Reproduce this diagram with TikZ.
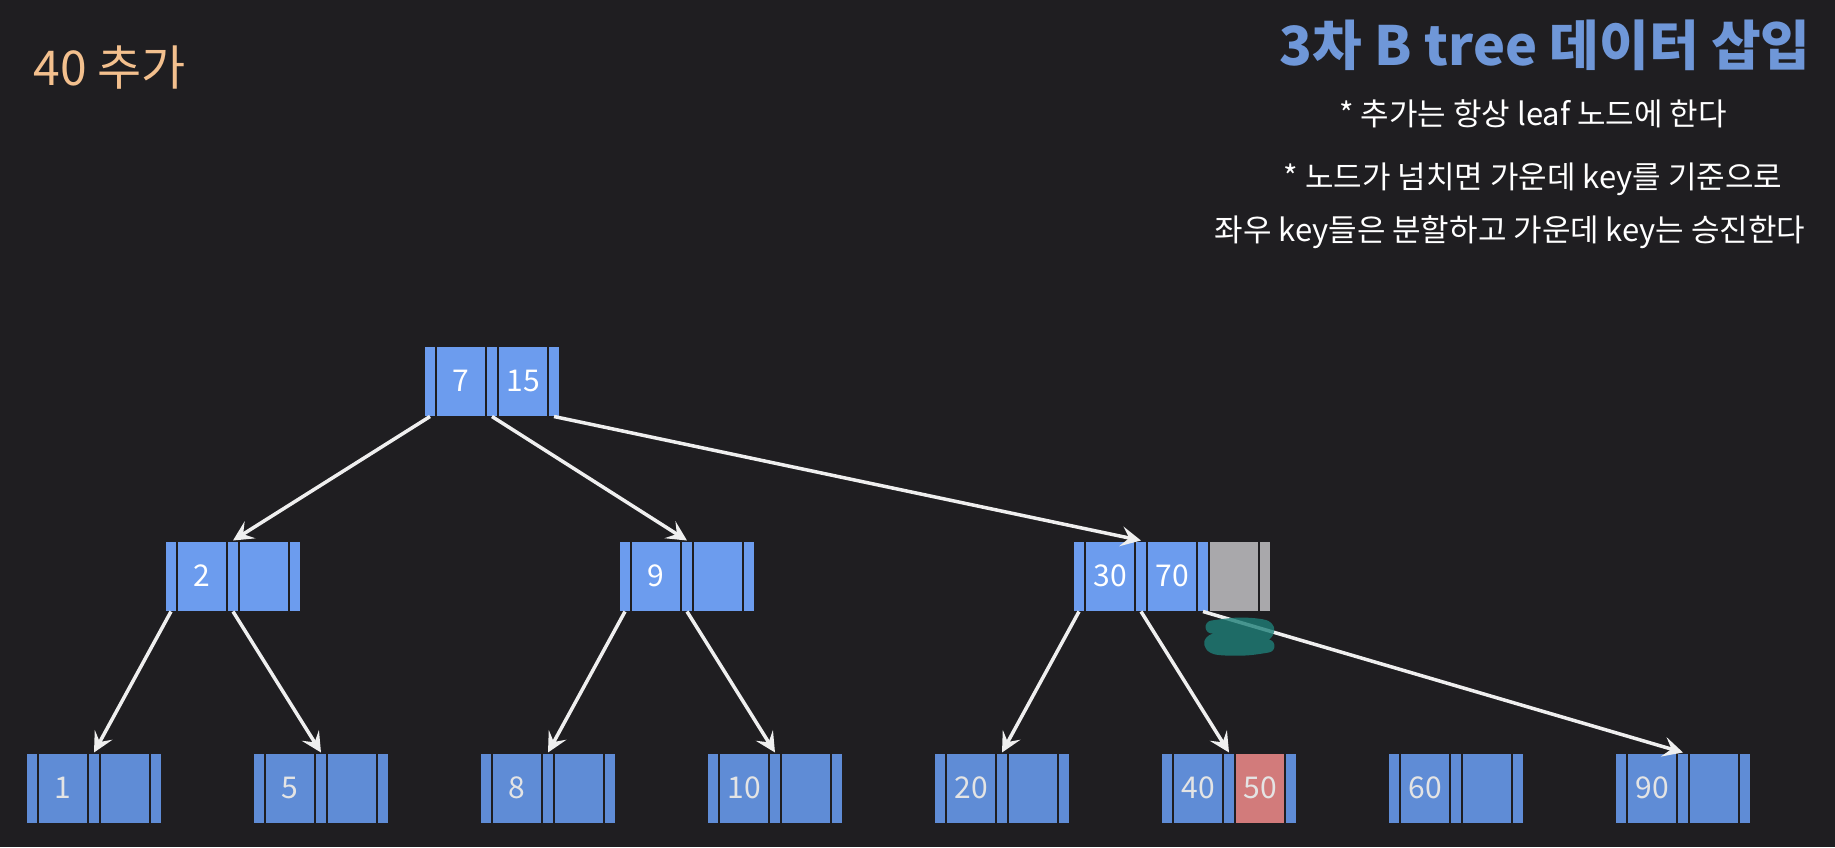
\documentclass[tikz,border=0pt]{standalone}
\usepackage{fontspec}
\setmainfont{Noto Sans CJK KR}
\usepackage{tikz}
\usetikzlibrary{arrows.meta, positioning}

\definecolor{bg}{HTML}{1F1E21}
\definecolor{upblue}{HTML}{6C9CEE}
\definecolor{leafblue}{HTML}{5F8CD6}
\definecolor{overgray}{HTML}{A9A8AB}
\definecolor{hotred}{HTML}{D27B7B}
\definecolor{leaftext}{HTML}{E4E4E4}
\definecolor{addcol}{HTML}{F3C08E}
\definecolor{titleblue}{HTML}{6F97D8}
\definecolor{arrowcol}{HTML}{EFEFEF}
\definecolor{marker}{HTML}{1E7F78}

% one b-tree node = pointer | key | pointer | key | pointer
\newcommand{\btnode}[6]{%
  \node[ptr, #3, anchor=west] (#1-p0) at (#2) {};
  \node[key, #3, right=0pt of #1-p0] (#1-k1) {#4};
  \node[ptr, #3, right=0pt of #1-k1] (#1-p1) {};
  \node[key, #6, right=0pt of #1-p1] (#1-k2) {#5};
  \node[ptr, #3, right=0pt of #1-k2] (#1-p2) {};
}

\begin{document}
\begin{tikzpicture}[x=1pt, y=-1pt,
    slot/.style={draw=bg, line width=2pt, minimum height=71pt, inner sep=0pt, outer sep=0pt,
      font=\fontsize{30}{32}\selectfont},
    ptr/.style={slot, minimum width=12pt},
    key/.style={slot, minimum width=50pt},
    up/.style={fill=upblue, text=white},
    lf/.style={fill=leafblue, text=leaftext},
    over/.style={fill=overgray},
    hot/.style={fill=hotred, text=leaftext},
    rule/.style={text=white, font=\fontsize{31}{33}\selectfont},
    arr/.style={draw=arrowcol, line width=3.5pt, -{Stealth[length=20pt, width=20pt, inset=8pt]}}]
    \fill[bg] (0,0) rectangle (1835,847);
    \useasboundingbox (0,0) rectangle (1835,847);

    \node[anchor=west, text=addcol, font=\fontsize{48}{52}\selectfont] (addlbl) at (30,68) {40 추가};
    \node[anchor=east, text=titleblue, font=\bfseries\fontsize{54}{58}\selectfont] (title) at (1814,45) {3차 B tree 데이터 삽입};
    \node[rule] (rule1) at (1533,114) {* 추가는 항상 leaf 노드에 한다};
    \node[rule] (rule2) at (1533,179) {* 노드가 넘치면 가운데 key를 기준으로};
    \node[rule] (rule3) at (1510,232) {좌우 key들은 분할하고 가운데 key는 승진한다};

    % root
    \btnode{root}{424,381}{up}{7}{15}{up}
    % middle level
    \btnode{n2}{165,576}{up}{2}{}{up}
    \btnode{n9}{619,576}{up}{9}{}{up}
    \btnode{n30}{1073,576}{up}{30}{70}{up}
    \node[key, over, right=0pt of n30-p2] (n30-k3) {};
    \node[ptr, over, right=0pt of n30-k3] (n30-p3) {};
    % leaves
    \btnode{l1}{26,788}{lf}{1}{}{lf}
    \btnode{l5}{253,788}{lf}{5}{}{lf}
    \btnode{l8}{480,788}{lf}{8}{}{lf}
    \btnode{l10}{707,788}{lf}{10}{}{lf}
    \btnode{l20}{934,788}{lf}{20}{}{lf}
    \btnode{l40}{1161,788}{lf}{40}{50}{hot}
    \btnode{l60}{1388,788}{lf}{60}{}{lf}
    \btnode{l90}{1615,788}{lf}{90}{}{lf}

    \draw[arr] (root-p0.south) -- (n2-p1.north);
    \draw[arr] (root-p1.south) -- (n9-p1.north);
    \draw[arr] (root-p2.south) -- (n30-p1.north);
    \draw[arr] (n2-p0.south) -- (l1-p1.north);
    \draw[arr] (n2-p1.south) -- (l5-p1.north);
    \draw[arr] (n9-p0.south) -- (l8-p1.north);
    \draw[arr] (n9-p1.south) -- (l10-p1.north);
    \draw[arr] (n30-p0.south) -- (l20-p1.north);
    \draw[arr] (n30-p1.south) -- (l40-p1.north);
    \draw[arr] (n30-p2.south) -- (l90-p1.north);

    % pen mark under the new slot
    \draw[marker, opacity=0.8, line width=13pt, line cap=round, line join=round]
      plot[smooth, tension=0.6] coordinates {(1212,627) (1240,624) (1266,627) (1262,636) (1232,637)
        (1212,641) (1216,648) (1245,649) (1268,646)};
\end{tikzpicture}
\end{document}
